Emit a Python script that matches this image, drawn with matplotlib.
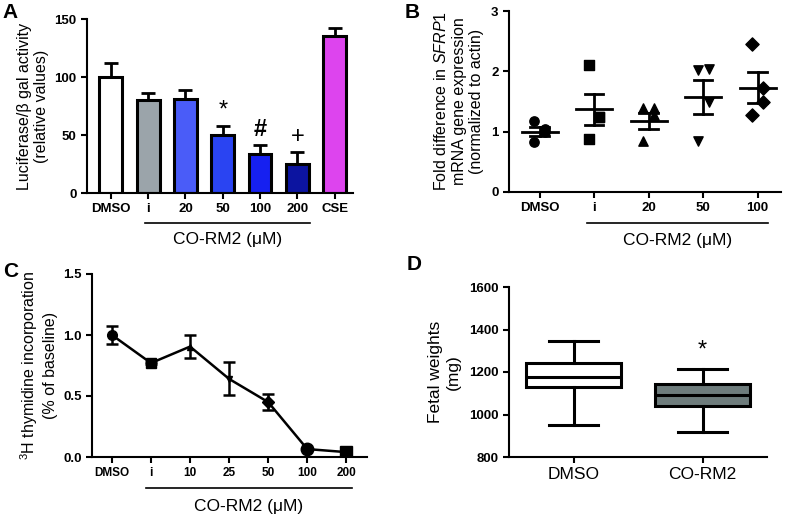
import numpy as np
import matplotlib
matplotlib.use("Agg")
import matplotlib.pyplot as plt

plt.rcParams['font.family'] = ['Liberation Sans', 'DejaVu Sans']
plt.rcParams['mathtext.fontset'] = 'custom'
plt.rcParams['mathtext.rm'] = 'Liberation Sans'
plt.rcParams['mathtext.it'] = 'Liberation Sans:italic'

# Panel A data
a_labels = ['DMSO', 'i', '20', '50', '100', '200', 'CSE']
a_means = [100, 80, 81, 50, 34, 25, 135]
a_err = [12, 6, 8, 8, 7, 10, 7]
a_colors = ['white', '#9ba4aa', '#4a5cf8', '#2a44f2', '#1620f0', '#0c14a0', '#dd44ee']
a_marks = {3: '*', 4: '#', 5: '+'}

# Panel B data
b_labels = ['DMSO', 'i', '20', '50', '100']
b_points = [
    [1.17, 1.05, 1.00, 0.83],
    [2.10, 1.25, 1.25, 0.88],
    [1.39, 1.39, 1.28, 0.84],
    [2.02, 2.04, 1.50, 0.84],
    [2.46, 1.72, 1.49, 1.27],
]
b_mean = [1.00, 1.37, 1.18, 1.57, 1.73]
b_sem = [0.07, 0.26, 0.13, 0.28, 0.26]
b_markers = ['o', 's', '^', 'v', 'D']

# Panel C data
c_labels = ['DMSO', 'i', '10', '25', '50', '100', '200']
c_means = [1.00, 0.77, 0.905, 0.64, 0.45, 0.065, 0.04]
c_err = [0.07, 0.01, 0.095, 0.135, 0.067, 0.0, 0.0]
c_markers = ['o', 's', '^', 'v', 'D', 'o', 's']
c_msize = [7, 7, 4, 4, 6, 9, 9]

# Panel D data
d_labels = ['DMSO', 'CO-RM2']
d_stats = [
    dict(whislo=950, q1=1128, med=1175, q3=1244, whishi=1345),
    dict(whislo=916, q1=1039, med=1094, q3=1144, whishi=1216),
]
d_colors = ['white', '#6e7c7c']

W, H = 788, 515
fig = plt.figure(figsize=(W / 100, H / 100), dpi=100)


def box(l, r, t, b):
    return fig.add_axes([l / W, 1 - b / H, (r - l) / W, (b - t) / H])


def style(ax, xsize=9.5, ysize=9.5):
    for s in ['top', 'right']:
        ax.spines[s].set_visible(False)
    for s in ['left', 'bottom']:
        ax.spines[s].set_linewidth(1.5)
    ax.tick_params(width=1.5, length=4)
    ax.tick_params(axis='x', labelsize=xsize)
    ax.tick_params(axis='y', labelsize=ysize)
    for t in ax.get_xticklabels() + ax.get_yticklabels():
        t.set_fontweight('bold')


def underline(ax, x0, x1, y_line, y_text):
    ax.plot([x0, x1], [y_line, y_line], color='black', lw=1.2,
            transform=ax.get_xaxis_transform(), clip_on=False)
    ax.text((x0 + x1) / 2, y_text, 'CO-RM2 (μM)', ha='center', va='center',
            fontsize=12.5, transform=ax.get_xaxis_transform())


# A
ax = box(87, 353, 19, 193)
xa = np.arange(len(a_labels))
ax.bar(xa, a_means, width=0.61, color=a_colors, edgecolor='black', linewidth=2.2, zorder=2)
ax.errorbar(xa, a_means, yerr=[np.zeros(len(a_err)), a_err], fmt='none',
            ecolor='black', elinewidth=2, capsize=5, capthick=2, zorder=1)
for i, m in a_marks.items():
    ax.text(i, a_means[i] + a_err[i] + 4, m, ha='center', va='bottom',
            fontsize=17, fontweight='bold' if m == '#' else 'normal')
ax.set_xlim(-0.64, 6.49)
ax.set_ylim(0, 150)
ax.set_yticks([0, 50, 100, 150])
ax.set_xticks(xa)
ax.set_xticklabels(a_labels)
ax.set_ylabel('Luciferase/β gal activity\n(relative values)', fontsize=11.5, labelpad=4)
style(ax)
underline(ax, 0.92, 5.33, -0.17, -0.27)
fig.text(2 / W, 1 - 18 / H, 'A', fontsize=15, fontweight='bold')

# B
ax = box(509, 781, 11, 192)
offs = [-0.1, 0.1, 0.1, -0.1]
for i, pts in enumerate(b_points):
    ax.scatter(i + np.array(offs), pts, marker=b_markers[i], s=45, color='black', zorder=3)
    m, sem = b_mean[i], b_sem[i]
    ax.plot([i - 0.33, i + 0.33], [m, m], color='black', lw=2)
    ax.plot([i, i], [m - sem, m + sem], color='black', lw=2)
    ax.plot([i - 0.17, i + 0.17], [m - sem] * 2, color='black', lw=2)
    ax.plot([i - 0.17, i + 0.17], [m + sem] * 2, color='black', lw=2)
ax.set_xlim(-0.56, 4.43)
ax.set_ylim(0, 3)
ax.set_yticks([0, 1, 2, 3])
ax.set_xticks(range(len(b_labels)))
ax.set_xticklabels(b_labels)
ax.set_ylabel('Fold difference in $\\it{SFRP1}$\nmRNA gene expression\n(normalized to actin)',
              fontsize=11.5, labelpad=5)
style(ax)
underline(ax, 0.88, 4.2, -0.17, -0.27)
fig.text(405 / W, 1 - 18 / H, 'B', fontsize=15, fontweight='bold')

# C
ax = box(92, 367, 274, 457)
xc = np.arange(len(c_labels))
ax.plot(xc, c_means, color='black', lw=1.8, zorder=2)
ax.errorbar(xc, c_means, yerr=c_err, fmt='none', ecolor='black',
            elinewidth=1.8, capsize=4, capthick=1.8, zorder=2)
for i in xc:
    ax.plot(xc[i], c_means[i], marker=c_markers[i], markersize=c_msize[i],
            color='black', zorder=3)
ax.set_xlim(-0.51, 6.53)
ax.set_ylim(0, 1.5)
ax.set_yticks([0, 0.5, 1.0, 1.5])
ax.set_yticklabels(['0.0', '0.5', '1.0', '1.5'])
ax.set_xticks(xc)
ax.set_xticklabels(c_labels)
ax.set_ylabel('$^{3}$H thymidine incorporation\n(% of baseline)', fontsize=11.5, labelpad=4)
style(ax, xsize=8.5)
underline(ax, 0.87, 6.14, -0.17, -0.27)
fig.text(3 / W, 1 - 277 / H, 'C', fontsize=15, fontweight='bold')

# D
ax = box(509, 767, 287, 457)
bp = ax.bxp(d_stats, positions=[0.5, 1.5], widths=0.74, showfliers=False,
            patch_artist=True,
            boxprops=dict(linewidth=2.2),
            whiskerprops=dict(linewidth=2.2),
            capprops=dict(linewidth=2.2),
            medianprops=dict(color='black', linewidth=2.2))
for p, c in zip(bp['boxes'], d_colors):
    p.set_facecolor(c)
for cap in bp['caps']:
    cx = np.mean(cap.get_xdata())
    cap.set_xdata([cx - 0.19, cx + 0.19])
ax.text(1.5, d_stats[1]['whishi'] + 35, '*', ha='center', va='bottom', fontsize=17)
ax.set_xlim(0, 2)
ax.set_ylim(800, 1600)
ax.set_yticks([800, 1000, 1200, 1400, 1600])
ax.set_xticks([0.5, 1.5])
ax.set_xticklabels(d_labels)
ax.set_ylabel('Fetal weights\n(mg)', fontsize=12.5, labelpad=6)
style(ax, xsize=12.5)
for t in ax.get_xticklabels():
    t.set_fontweight('normal')
fig.text(407 / W, 1 - 270 / H, 'D', fontsize=15, fontweight='bold')

fig.savefig('out.png', dpi=100)
